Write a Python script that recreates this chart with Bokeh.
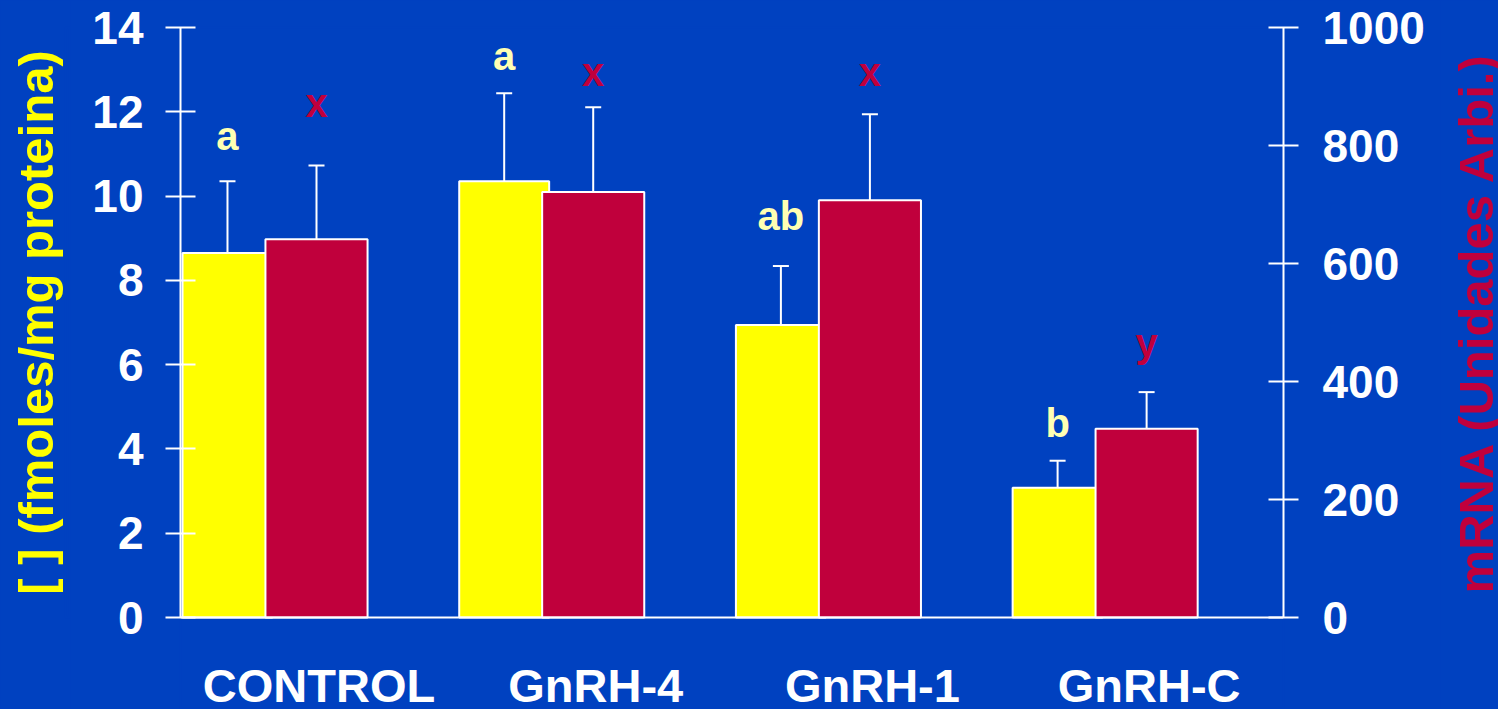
import numpy as np
from bokeh.plotting import figure
from bokeh.layouts import row
from bokeh.models import (ColumnDataSource, Range1d, LinearAxis, FixedTicker,
                          Whisker, TeeHead, Span)
from bokeh.core.properties import value
from bokeh.embed import file_html
from bokeh.resources import INLINE

# ---------------- data ----------------
categories = ["CONTROL", "GnRH-4", "GnRH-1", "GnRH-C"]
conc_mean = [8.65, 10.35, 6.94, 3.08]        # fmoles/mg proteina (left axis)
conc_sd = [1.70, 2.09, 1.40, 0.64]
mrna_mean = [641, 721, 707, 320]             # Unidades Arbi. (right axis)
mrna_sd = [125, 144, 146, 62]
conc_letters = ["a", "a", "ab", "b"]
mrna_letters = ["x", "x", "x", "y"]
left_ticks = [0, 2, 4, 6, 8, 10, 12, 14]
right_ticks = [0, 200, 400, 600, 800, 1000]
left_title = "[ ] (fmoles/mg proteina)"
right_title = "mRNA (Unidades Arbi.)"

# annotation heights (letters), in each axis' units
conc_letter_y = [11.13, 13.05, 9.24, 4.34]
mrna_letter_y = [851, 905, 905, 445]

# ---------------- style ----------------
BLUE = "#0041C0"
YELLOW = "#FFFF00"
RED = "#C0003C"
PALE = "#FFFFB3"
FONT = "Liberation Sans"
H = 709

idx = np.arange(len(categories))
yel_off, yel_w = -0.1717, 0.325
red_off, red_w = 0.150, 0.369
lab_off = 0.159
LEFT_MAX, RIGHT_MAX = 14, 1000
below = 92 / 590.0          # share of axis height left below zero for category names

conc_top = [m + s for m, s in zip(conc_mean, conc_sd)]
mrna_top = [m + s for m, s in zip(mrna_mean, mrna_sd)]

src_c = ColumnDataSource(dict(x=idx + yel_off, top=conc_mean, up=conc_top,
                              lt=conc_letters, ly=conc_letter_y))
src_m = ColumnDataSource(dict(x=idx + red_off, top=mrna_mean, up=mrna_top,
                              lt=mrna_letters, ly=mrna_letter_y))
src_cat = ColumnDataSource(dict(x=idx + lab_off,
                                y=[-LEFT_MAX * 90 / 590.0] * len(categories),
                                t=categories))


def no_align(f):
    if hasattr(f, "frame_align"):
        f.frame_align = False
    return f


def title_panel(width, border_left, text, color, standoff):
    """Narrow side panel whose only content is a bottom-to-top axis title."""
    f = figure(width=width, height=H, x_range=Range1d(0, 1),
               y_range=Range1d(0, 1), x_axis_location=None,
               output_backend="svg", toolbar_location=None,
               min_border_left=border_left, min_border_right=0,
               min_border_top=27, min_border_bottom=92,
               background_fill_color=BLUE, border_fill_color=BLUE,
               outline_line_color=BLUE, outline_line_width=2)
    no_align(f)
    f.xgrid.visible = False
    f.ygrid.visible = False
    ax = f.yaxis[0]
    ax.ticker = FixedTicker(ticks=[])
    ax.axis_line_color = None
    ax.major_tick_line_color = None
    ax.minor_tick_line_color = None
    ax.major_tick_in = 0
    ax.major_tick_out = 0
    ax.major_label_standoff = 0
    ax.axis_label = text
    ax.axis_label_text_color = color
    ax.axis_label_text_font = FONT
    ax.axis_label_text_font_style = "bold"
    ax.axis_label_text_font_size = "49px"
    ax.axis_label_standoff = standoff
    return f


left_panel = title_panel(70, 65, left_title, YELLOW, 3)

p = figure(width=1370, height=H,
           x_range=Range1d(-0.3415, 3.6447),
           y_range=Range1d(-LEFT_MAX * below, LEFT_MAX),
           x_axis_location=None,
           output_backend="svg", toolbar_location=None,
           min_border_left=110, min_border_right=157,
           min_border_top=27, min_border_bottom=0,
           background_fill_color=BLUE, border_fill_color=BLUE,
           outline_line_color=BLUE, outline_line_width=2)
no_align(p)
p.extra_y_ranges = {"right": Range1d(-RIGHT_MAX * below, RIGHT_MAX)}
p.xgrid.visible = False
p.ygrid.visible = False


def style_axis(ax, standoff):
    ax.axis_line_color = "white"
    ax.axis_line_width = 2
    ax.major_tick_line_color = "white"
    ax.major_tick_line_width = 2
    ax.major_tick_in = 15
    ax.major_tick_out = 15
    ax.minor_tick_line_color = None
    ax.major_label_text_color = "white"
    ax.major_label_text_font = FONT
    ax.major_label_text_font_style = "bold"
    ax.major_label_text_font_size = "46px"
    ax.major_label_standoff = standoff


lax = p.yaxis[0]
lax.ticker = FixedTicker(ticks=left_ticks)
lax.bounds = (0, LEFT_MAX)
style_axis(lax, 22)

rax = LinearAxis(y_range_name="right", ticker=FixedTicker(ticks=right_ticks),
                 bounds=(0, RIGHT_MAX))
style_axis(rax, 24)
p.add_layout(rax, "right")

# x baseline
p.add_layout(Span(location=0, dimension="width", line_color="white",
                  line_width=2))

# bars
p.vbar(x="x", top="top", bottom=0, width=yel_w, source=src_c,
       fill_color=YELLOW, line_color="white", line_width=2)
p.vbar(x="x", top="top", bottom=0, width=red_w, source=src_m,
       y_range_name="right", fill_color=RED, line_color="white", line_width=2)

# error bars (upper only)
p.add_layout(Whisker(source=src_c, base="x", lower="top", upper="up",
                     dimension="height", line_color="white", line_width=2,
                     upper_head=TeeHead(size=16, line_color="white", line_width=2),
                     lower_head=None))
p.add_layout(Whisker(source=src_m, base="x", lower="top", upper="up",
                     dimension="height", line_color="white", line_width=2,
                     y_range_name="right",
                     upper_head=TeeHead(size=16, line_color="white", line_width=2),
                     lower_head=None))

# significance letters
p.text(x="x", y="ly", text="lt", source=src_c, text_color=PALE,
       text_font=value(FONT), text_font_style="bold", text_font_size="40px",
       text_align="center", text_baseline="alphabetic", y_offset=-12)
p.text(x="x", y="ly", text="lt", source=src_m, y_range_name="right",
       text_color=RED, text_font=value(FONT), text_font_style="bold",
       text_font_size="40px", text_align="center", text_baseline="alphabetic",
       y_offset=-12)

# category names
p.text(x="x", y="y", text="t", source=src_cat, text_color="white",
       text_font=value(FONT), text_font_style="bold", text_font_size="47px",
       text_align="center", text_baseline="alphabetic", y_offset=-22)

right_panel = title_panel(58, 56, right_title, RED, -6)

layout = row(left_panel, p, right_panel, spacing=0,
             styles={"background-color": BLUE})

open("out.html", "w").write(file_html(layout, INLINE))
